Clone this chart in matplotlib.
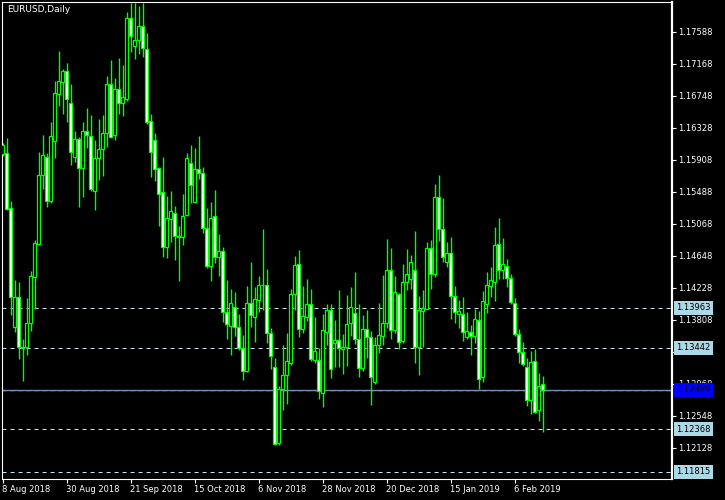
import numpy as np
import matplotlib
matplotlib.use("Agg")
import matplotlib.pyplot as plt
from matplotlib.patches import Rectangle

# daily EURUSD bars
opens = [1.15979, 1.15997, 1.15270, 1.13716, 1.14102, 1.13446, 1.13454, 1.13761, 1.14364, 1.14802,
         1.15703, 1.15939, 1.15370, 1.16157, 1.16766, 1.16932, 1.17072, 1.16648, 1.15947, 1.16176,
         1.15803, 1.16289, 1.16223, 1.15493, 1.15926, 1.16044, 1.16254, 1.16902, 1.16228, 1.16836,
         1.16648, 1.16705, 1.17764, 1.17404, 1.17475, 1.17663, 1.17357, 1.16412, 1.16163, 1.15799,
         1.15480, 1.14766, 1.15134, 1.15204, 1.14907, 1.14897, 1.15182, 1.15861, 1.15357, 1.15786,
         1.15729, 1.15008, 1.14517, 1.15165, 1.14635, 1.14710, 1.13913, 1.13729, 1.13979, 1.13716,
         1.13433, 1.13139, 1.14023, 1.13847, 1.14066, 1.14259, 1.14259, 1.13629, 1.13183, 1.12186,
         1.12894, 1.13082, 1.13244, 1.14141, 1.14535, 1.13690, 1.13847, 1.14014, 1.13279, 1.13279,
         1.12850, 1.13650, 1.13935, 1.13498, 1.13541, 1.13419, 1.13446, 1.13769, 1.13892, 1.13551,
         1.13170, 1.13690, 1.13577, 1.12994, 1.13472, 1.13598, 1.13761, 1.14456, 1.13673, 1.14145,
         1.13528, 1.14307, 1.14338, 1.14456, 1.13446, 1.13926, 1.13952, 1.14745, 1.14408, 1.15414,
         1.14994, 1.14569, 1.14679, 1.14119, 1.13883, 1.13883, 1.13585, 1.13643, 1.13598, 1.13804,
         1.13060, 1.14010, 1.14254, 1.14307, 1.14798, 1.14460, 1.14509, 1.14351, 1.14031, 1.13616,
         1.13380, 1.13191, 1.12754, 1.13262, 1.12623, 1.12960]
highs = [1.16127, 1.16197, 1.15366, 1.14329, 1.14303, 1.13555, 1.14089, 1.14443, 1.14854, 1.16009,
         1.16232, 1.15992, 1.16399, 1.16941, 1.17335, 1.17098, 1.17177, 1.16902, 1.16285, 1.16210,
         1.16399, 1.16587, 1.16495, 1.16167, 1.16442, 1.16495, 1.17007, 1.17217, 1.16980, 1.17243,
         1.17151, 1.17843, 1.17961, 1.17961, 1.17925, 1.17961, 1.17567, 1.16508, 1.16254, 1.15816,
         1.15943, 1.15432, 1.15497, 1.15300, 1.15038, 1.15458, 1.15992, 1.16101, 1.16058, 1.16219,
         1.15816, 1.15278, 1.15353, 1.15510, 1.14933, 1.14762, 1.14329, 1.14211, 1.14171, 1.13883,
         1.13607, 1.14250, 1.14561, 1.14241, 1.14382, 1.14998, 1.14473, 1.13695, 1.13301, 1.12938,
         1.13476, 1.13637, 1.14207, 1.14644, 1.14723, 1.14250, 1.14342, 1.14211, 1.13843, 1.13433,
         1.13883, 1.14014, 1.14014, 1.13804, 1.14198, 1.13620, 1.14132, 1.14241, 1.14434, 1.14014,
         1.13870, 1.13935, 1.13660, 1.13577, 1.14023, 1.14395, 1.14867, 1.14749, 1.14382, 1.14162,
         1.14539, 1.14736, 1.14657, 1.14976, 1.14119, 1.14198, 1.14824, 1.14854, 1.15589, 1.15707,
         1.15405, 1.14824, 1.14889, 1.14250, 1.14066, 1.14110, 1.13909, 1.13738, 1.13948, 1.13922,
         1.14185, 1.14434, 1.14500, 1.15021, 1.15139, 1.14876, 1.14605, 1.14408, 1.14089, 1.13686,
         1.13515, 1.13301, 1.13397, 1.13419, 1.13104, 1.13069]
lows = [1.15957, 1.15248, 1.13870, 1.13650, 1.13292, 1.13007, 1.13345, 1.13664, 1.13944, 1.14788,
        1.15523, 1.15291, 1.15344, 1.15934, 1.16617, 1.16508, 1.16407, 1.15838, 1.15882, 1.15291,
        1.15422, 1.16058, 1.15501, 1.15248, 1.15642, 1.15694, 1.16079, 1.16197, 1.16167, 1.16508,
        1.16485, 1.16678, 1.17318, 1.17230, 1.17295, 1.17252, 1.16377, 1.15685, 1.15632, 1.15038,
        1.14635, 1.14618, 1.14832, 1.14592, 1.14316, 1.14788, 1.15169, 1.15336, 1.15340, 1.15659,
        1.14950, 1.14490, 1.14316, 1.14556, 1.14382, 1.13782, 1.13555, 1.13345, 1.13598, 1.13410,
        1.13017, 1.13125, 1.13716, 1.13519, 1.13913, 1.13935, 1.13506, 1.13157, 1.12163, 1.12163,
        1.12623, 1.12701, 1.13213, 1.13935, 1.13577, 1.13637, 1.13795, 1.13270, 1.13244, 1.12767,
        1.12666, 1.13476, 1.13047, 1.13191, 1.13191, 1.13095, 1.13204, 1.13598, 1.13489, 1.13060,
        1.13139, 1.13309, 1.12688, 1.12960, 1.13367, 1.13476, 1.13695, 1.13555, 1.13629, 1.13427,
        1.13506, 1.14198, 1.14207, 1.13244, 1.13086, 1.13454, 1.13948, 1.14211, 1.14372, 1.14845,
        1.14569, 1.14504, 1.13813, 1.13769, 1.13695, 1.13532, 1.13555, 1.13345, 1.13506, 1.12894,
        1.12994, 1.13900, 1.14110, 1.14057, 1.14342, 1.14342, 1.14241, 1.14014, 1.13594, 1.13244,
        1.13204, 1.12679, 1.12570, 1.12579, 1.12482, 1.12338]
closes = [1.16101, 1.15261, 1.14110, 1.14102, 1.13446, 1.13433, 1.13761, 1.14382, 1.14811, 1.15703,
          1.15966, 1.15370, 1.16219, 1.16779, 1.16941, 1.17072, 1.16701, 1.16013, 1.16176, 1.15803,
          1.16289, 1.16228, 1.15527, 1.15926, 1.16044, 1.16254, 1.16902, 1.16210, 1.16836, 1.16648,
          1.16731, 1.17764, 1.17535, 1.17475, 1.17663, 1.17378, 1.16407, 1.16013, 1.15782, 1.15462,
          1.14766, 1.15139, 1.15235, 1.14910, 1.14900, 1.15173, 1.15926, 1.15580, 1.15786, 1.15729,
          1.15008, 1.14517, 1.15139, 1.14635, 1.14710, 1.13913, 1.13748, 1.14023, 1.13716, 1.13433,
          1.13139, 1.14023, 1.13870, 1.14076, 1.14259, 1.14257, 1.13629, 1.13335, 1.12177, 1.12894,
          1.13078, 1.13266, 1.14141, 1.14522, 1.13690, 1.13856, 1.14014, 1.13296, 1.13397, 1.12876,
          1.13673, 1.13935, 1.13157, 1.13541, 1.13433, 1.13454, 1.13748, 1.13971, 1.13551, 1.13170,
          1.13682, 1.13585, 1.13052, 1.13472, 1.13603, 1.13761, 1.14456, 1.13669, 1.14168, 1.13519,
          1.14303, 1.14404, 1.14561, 1.13446, 1.13931, 1.13958, 1.14745, 1.14404, 1.15414, 1.14994,
          1.14627, 1.14679, 1.14123, 1.13913, 1.13926, 1.13650, 1.13660, 1.13598, 1.13813, 1.13030,
          1.14049, 1.14259, 1.14325, 1.14788, 1.14460, 1.14535, 1.14351, 1.14044, 1.13616, 1.13388,
          1.13223, 1.12754, 1.13249, 1.12600, 1.12942, 1.12889]

date_labels = ["8 Aug 2018", "30 Aug 2018", "21 Sep 2018", "15 Oct 2018", "6 Nov 2018",
               "28 Nov 2018", "20 Dec 2018", "15 Jan 2019", "6 Feb 2019"]
price_ticks = [1.17588, 1.17168, 1.16748, 1.16328, 1.15908, 1.15488, 1.15068,
               1.14648, 1.14228, 1.13808, 1.13388, 1.12968, 1.12548, 1.12128]
levels = [1.13963, 1.13442, 1.12368, 1.11815]
bid = 1.12889
ask_line = 1.12878

GREEN = "#00ff00"
PX = 0.72  # one pixel in points at 100 dpi

fig = plt.figure(figsize=(7.25, 5.0), dpi=100, facecolor="black")
ax = fig.add_axes([2 / 725, 21 / 500, 670 / 725, 477 / 500], facecolor="black")

x = np.arange(len(opens))
ax.vlines(x, lows, highs, color=GREEN, lw=1.0, zorder=2)
for xi, o, c in zip(x, opens, closes):
    fc = "black" if c > o else "white"
    # body outline in green, core white for a falling day, black for a rising one
    ax.add_patch(Rectangle((xi - 0.3, min(o, c)), 0.6, max(abs(c - o), 0.00001),
                           facecolor=fc, edgecolor=GREEN, lw=0.9, zorder=3))

for lev in levels:
    ax.axhline(lev, color="#c8e4f0", lw=PX, ls=(0, (4, 4)), zorder=1)
    ax.annotate("%.5f" % lev, xy=(1, lev), xycoords=("axes fraction", "data"),
                xytext=(4, 0), textcoords="offset pixels", va="center", ha="left",
                fontsize=6, color="black", annotation_clip=False, zorder=10,
                bbox=dict(boxstyle="square,pad=0.3", fc="#add8e6", ec="none"))

ax.axhline(ask_line, color="#0000ff", lw=PX, ls=(0, (4, 4)), zorder=1)
ax.axhline(bid, color="#7890b8", lw=1.0, zorder=1)
ax.annotate("%.5f" % bid, xy=(1, bid), xycoords=("axes fraction", "data"),
            xytext=(4, 0), textcoords="offset pixels", va="center", ha="left",
            fontsize=6, color="black", annotation_clip=False, zorder=10,
            bbox=dict(boxstyle="square,pad=0.3", fc="#0000ff", ec="none"))

ax.set_xlim(-0.125, 167.375)
ax.set_ylim(1.11717, 1.17978)

ax.yaxis.tick_right()
ax.set_yticks(price_ticks)
ax.set_yticklabels(["%.5f" % p for p in price_ticks])
ax.set_xticks(np.arange(0, len(opens), 16)[:len(date_labels)])
ax.set_xticklabels(date_labels)
for lbl in ax.get_xticklabels():
    lbl.set_ha("left")
ax.tick_params(axis="both", colors="white", labelsize=6, length=3, width=0.8, pad=1.5)

for side in ["left", "top", "bottom", "right"]:
    ax.spines[side].set_color("white")
    ax.spines[side].set_linewidth(0.8)
ax.spines["right"].set_linewidth(1.6)

fig.text(7 / 725, 1 - 10 / 500, "EURUSD,Daily", color="white", fontsize=6.5, va="center")

fig.savefig("out.png", dpi=100, facecolor="black")
